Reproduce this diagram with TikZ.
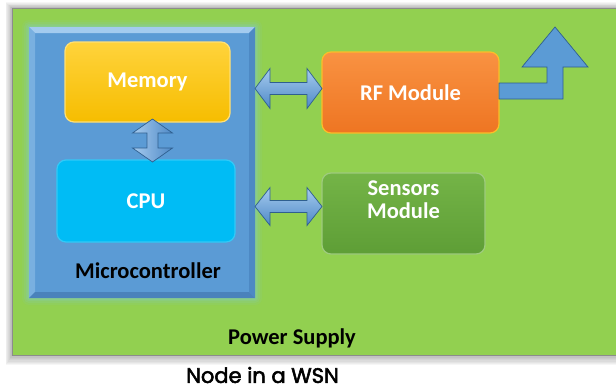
\documentclass[tikz,border=0pt]{standalone}
\usepackage{fontspec}
\setmainfont{Carlito}
\newfontfamily\capfont{Poppins}[FakeBold=2.6]
\usetikzlibrary{calc}
\definecolor{bgreen}{HTML}{92D050}
\definecolor{mcublue}{HTML}{5B9BD5}
\definecolor{mcutop}{HTML}{A3CBEF}
\definecolor{mculeft}{HTML}{79B0E0}
\definecolor{mcuright}{HTML}{4D89C4}
\definecolor{mcubot}{HTML}{4A82BB}
\definecolor{glow}{HTML}{86CDB0}
\definecolor{memtop}{HTML}{FFD33C}
\definecolor{membot}{HTML}{F6BD00}
\definecolor{cpucol}{HTML}{00BCF5}
\definecolor{rftop}{HTML}{F99242}
\definecolor{rfbot}{HTML}{EE7522}
\definecolor{sentop}{HTML}{74B447}
\definecolor{senbot}{HTML}{5E9E36}
\definecolor{arrlight}{HTML}{A6CBEF}
\definecolor{arrdark}{HTML}{4E89C6}
\definecolor{arredge}{HTML}{2F5F8F}
\tikzset{
  supply/.style={draw=black!45, fill=bgreen, line width=0.8bp, inner sep=0, outer sep=0, anchor=north west},
  mcubox/.style={fill=mcublue, inner sep=0, outer sep=0, anchor=north west},
  modbox/.style={rounded corners=9bp, inner sep=0, outer sep=0, line width=1.2bp, text=white,
    font=\bfseries\fontsize{22.5bp}{27bp}\selectfont},
  lbl/.style={font=\bfseries\fontsize{22.5bp}{23bp}\selectfont, inner sep=0, align=center},
  fatarr/.style={draw=arredge, line width=0.7bp, top color=arrlight, bottom color=arrdark, line join=miter},
  vfatarr/.style={draw=arredge, line width=0.7bp, left color=arrlight, right color=arrdark, line join=miter},
  antarr/.style={draw=arredge, line width=0.7bp, fill=mcublue, line join=miter}
}
\begin{document}
\begin{tikzpicture}[x=1bp,y=-1bp]
\useasboundingbox (0,0) rectangle (616,390);
\fill[white] (0,0) rectangle (616,390);
% shadow of the supply panel
\foreach \i in {1,...,8}
  \fill[black,opacity=0.035] (12-0.8*\i,8-0.7*\i) rectangle (620,355+1.3*\i);
\node[supply, minimum width=610bp, minimum height=347bp] (ps) at (12,8) {};
% glow around microcontroller
\foreach \i/\o in {7/0.12,5/0.18,3/0.25,1.5/0.35}
  \fill[glow,opacity=\o,rounded corners=\i bp] (29-\i,27-\i) rectangle (255+\i,298+\i);
\node[mcubox, minimum width=226bp, minimum height=271bp] (mcu) at (29,27) {};
% bevel of microcontroller
\fill[mcutop] (mcu.north west) -- (mcu.north east) -- ($(mcu.north east)+(-6,6)$) -- ($(mcu.north west)+(6,6)$) -- cycle;
\fill[mculeft] (mcu.north west) -- ($(mcu.north west)+(6,6)$) -- ($(mcu.south west)+(6,-6)$) -- (mcu.south west) -- cycle;
\fill[mcuright] (mcu.north east) -- ($(mcu.north east)+(-6,6)$) -- ($(mcu.south east)+(-6,-6)$) -- (mcu.south east) -- cycle;
\fill[mcubot] (mcu.south west) -- ($(mcu.south west)+(6,-6)$) -- ($(mcu.south east)+(-6,-6)$) -- (mcu.south east) -- cycle;
% modules
\node[modbox, draw=memtop!70!white, top color=memtop, bottom color=membot, minimum width=165bp, minimum height=80bp] (mem) at (147.5,82) {Memory};
\node[modbox, draw=cpucol!80!white, fill=cpucol, minimum width=178bp, minimum height=82bp] (cpu) at (146,201) {CPU};
\node[modbox, draw=rftop!60!yellow, top color=rftop, bottom color=rfbot, minimum width=177bp, minimum height=81bp] (rf) at (410.5,92.5) {RF Module};
\node[modbox, draw=sentop!70!white, top color=sentop, bottom color=senbot, minimum width=163bp, minimum height=81bp] (sens) at (403.5,213.5) {};
\node[lbl, text=white] (senst) at (403.5,200) {Sensors\\Module};
% labels
\node[lbl] (mcut) at (148,271) {Microcontroller};
\node[lbl] (pst) at (292,338) {Power Supply};
\node[font=\capfont\fontsize{21bp}{24bp}\selectfont, inner sep=0] (cap) at (262.5,375) {Node in a WSN};
% arrows
\coordinate (ya) at (0,88.5);
\coordinate (yb) at (0,206.5);
\coordinate (xv) at (152.5,0);
\coordinate (yant) at (0,91);
\draw[fatarr] (mcu.east |- ya) -- ++(15,-20) -- ++(0,14) -- ($(rf.west |- ya)+(-15,-6)$) -- ++(0,-14) -- (rf.west |- ya) -- ++(-15,20) -- ++(0,-14) -- ($(mcu.east |- ya)+(15,6)$) -- ++(0,14) -- cycle;
\draw[fatarr] (mcu.east |- yb) -- ++(15,-19) -- ++(0,13) -- ($(sens.west |- yb)+(-15,-6)$) -- ++(0,-13) -- (sens.west |- yb) -- ++(-15,19) -- ++(0,-13) -- ($(mcu.east |- yb)+(15,6)$) -- ++(0,13) -- cycle;
\coordinate (vt) at ($(mem.south -| xv)+(0,-3)$);
\coordinate (vb) at ($(cpu.north -| xv)+(0,2)$);
\draw[vfatarr] (vt) -- ($(vt)+(20,14)$) -- ($(vt)+(5.5,14)$) -- ($(vb)+(5.5,-14)$) -- ($(vb)+(20,-14)$) -- (vb) -- ($(vb)+(-20,-14)$) -- ($(vb)+(-5.5,-14)$) -- ($(vt)+(-5.5,14)$) -- ($(vt)+(-20,14)$) -- cycle;
\coordinate (as) at (rf.east |- yant);
\draw[antarr] ($(as)+(0,-8)$) -- (547,83) -- (547,67) -- (522,67) -- (555,27) -- (588,67) -- (563,67) -- (563,99) -- ($(as)+(0,8)$) -- cycle;
\end{tikzpicture}
\end{document}
